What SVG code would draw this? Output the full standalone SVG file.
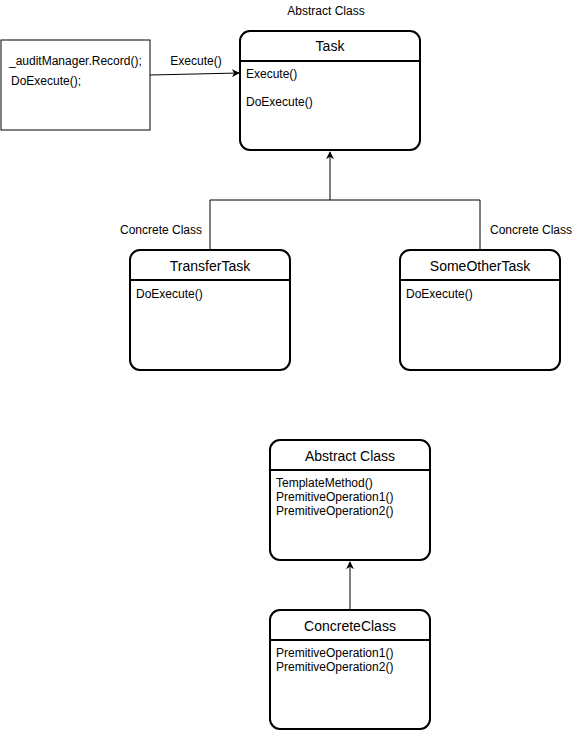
<svg xmlns="http://www.w3.org/2000/svg" width="581" height="732" viewBox="0 0 581 732">
<style>
text{font-family:"Liberation Sans",Arial,sans-serif;fill:#000}
.t{font-size:14px;text-anchor:middle}
.m{font-size:12px}
.lbl{font-size:12px}
.cls{fill:#fff;stroke:#000;stroke-width:2}
.conn{fill:none;stroke:#000;stroke-width:1}
</style>
<defs>
<marker id="ah" viewBox="0 0 10 10" refX="9" refY="5" markerWidth="8" markerHeight="8" markerUnits="userSpaceOnUse" orient="auto">
<path d="M0,0 L10,5 L0,10 L3,5 Z" fill="#000"/>
</marker>
</defs>
<rect width="581" height="732" fill="#fff"/>
<text class="lbl" x="326" y="15" text-anchor="middle">Abstract Class</text>
<text class="lbl" x="161" y="234" text-anchor="middle">Concrete Class</text>
<text class="lbl" x="531" y="234" text-anchor="middle">Concrete Class</text>

<g id="code">
<rect x="1" y="40" width="149" height="90" fill="#fff" stroke="#000" stroke-width="1"/>
<text class="m" x="9" y="65">_auditManager.Record();</text>
<text class="m" x="11" y="85">DoExecute();</text>
</g>

<g id="task">
<rect class="cls" x="240" y="31" width="180" height="119" rx="10"/>
<line x1="240" y1="61" x2="420" y2="61" stroke="#000" stroke-width="2"/>
<text class="t" x="330" y="51">Task</text>
<text class="m" x="246" y="78">Execute()</text>
<text class="m" x="246" y="106">DoExecute()</text>
</g>

<g id="transfer">
<rect class="cls" x="130" y="250" width="160" height="120" rx="10"/>
<line x1="130" y1="280" x2="290" y2="280" stroke="#000" stroke-width="2"/>
<text class="t" x="210" y="271">TransferTask</text>
<text class="m" x="136" y="298">DoExecute()</text>
</g>

<g id="someother">
<rect class="cls" x="400" y="250" width="160" height="120" rx="10"/>
<line x1="400" y1="280" x2="560" y2="280" stroke="#000" stroke-width="2"/>
<text class="t" x="480" y="271">SomeOtherTask</text>
<text class="m" x="406" y="298">DoExecute()</text>
</g>

<g id="abstract">
<rect class="cls" x="270" y="440" width="160" height="120" rx="10"/>
<line x1="270" y1="470" x2="430" y2="470" stroke="#000" stroke-width="2"/>
<text class="t" x="350" y="461">Abstract Class</text>
<text class="m" x="276" y="487">TemplateMethod()</text>
<text class="m" x="276" y="501">PremitiveOperation1()</text>
<text class="m" x="276" y="515">PremitiveOperation2()</text>
</g>

<g id="concrete">
<rect class="cls" x="270" y="610" width="160" height="119" rx="10"/>
<line x1="270" y1="640" x2="430" y2="640" stroke="#000" stroke-width="2"/>
<text class="t" x="350" y="631">ConcreteClass</text>
<text class="m" x="276" y="657">PremitiveOperation1()</text>
<text class="m" x="276" y="671">PremitiveOperation2()</text>
</g>

<g id="connectors">
<path class="conn" d="M150,75 L239,73" marker-end="url(#ah)"/>
<text class="lbl" x="196" y="65" text-anchor="middle">Execute()</text>
<path class="conn" d="M210,250 V200 H480 V250"/>
<path class="conn" d="M330,200 V152" marker-end="url(#ah)"/>
<path class="conn" d="M350,610 V562" marker-end="url(#ah)"/>
</g>
</svg>
